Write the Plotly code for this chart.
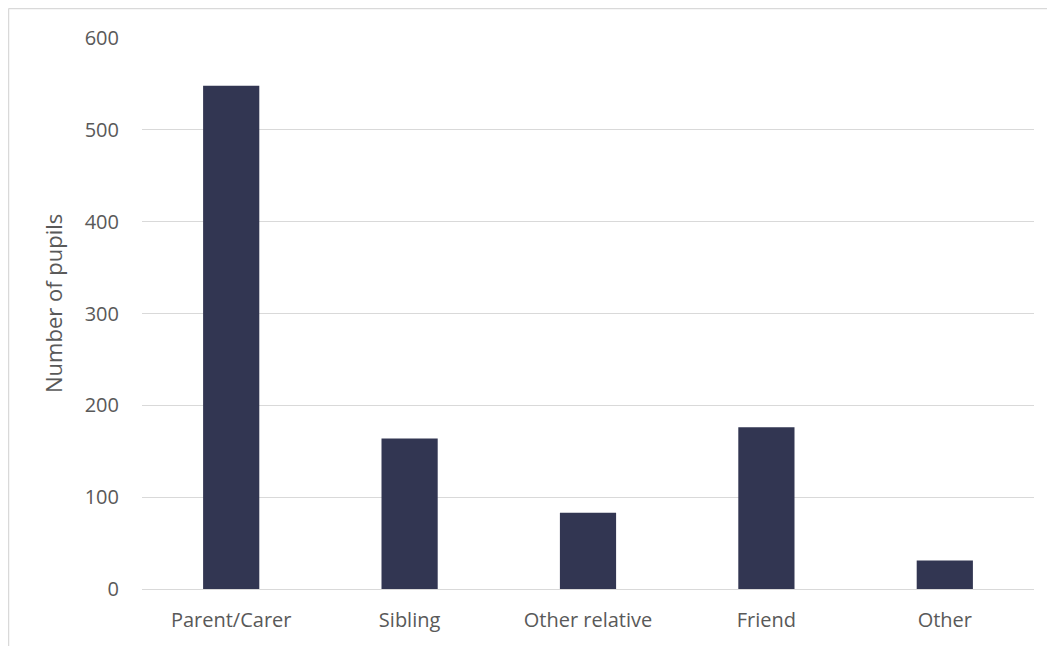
import plotly.graph_objects as go

categories = ["Parent/Carer", "Sibling", "Other relative", "Friend", "Other"]
pupils = [548, 164, 83, 176, 31]
y_ticks = [0, 100, 200, 300, 400, 500, 600]

W, H = 1055, 646
OFF = 8  # page offset of the figure (body margin)
# plot area in page pixels
PX0, PX1, PY0, PY1 = 142, 1034, 38, 589
L, R = PX0 - OFF, W + OFF - PX1
T, B = PY0 - OFF, H + OFF - PY1
pw, ph = PX1 - PX0, PY1 - PY0


def px(x):
    return (x - PX0) / pw


def py(y):
    return (PY1 - y) / ph


fig = go.Figure(go.Bar(x=categories, y=pupils, marker_color="#323652",
                       marker_line_width=0, width=0.315))

font = dict(family="Open Sans, Calibri, sans-serif", size=20, color="#595959")
fig.update_layout(
    width=W, height=H,
    margin=dict(l=L, r=R, t=T, b=B, autoexpand=False),
    paper_bgcolor="white", plot_bgcolor="white",
    font=font, showlegend=False,
    xaxis=dict(showgrid=False, showline=False, ticks="", tickfont=font,
               ticklabelstandoff=17),
    yaxis=dict(range=[0, 600], tickvals=y_ticks, showgrid=True,
               gridcolor="#d9d9d9", gridwidth=1.3, zeroline=True,
               zerolinecolor="#d9d9d9", zerolinewidth=1.3, showline=False,
               ticks="", tickfont=font, ticklabelstandoff=22),
)
fig.add_annotation(text="Number of pupils", textangle=-90, xref="paper", yref="paper",
                   x=px(53), y=py(304), showarrow=False,
                   xanchor="center", yanchor="middle",
                   font=dict(family=font["family"], size=22, color="#595959"))
# chart frame (top and left edges visible)
fig.add_shape(type="line", xref="paper", yref="paper",
              x0=px(8.5), x1=px(W + 10), y0=py(8.5), y1=py(8.5),
              line=dict(color="#d9d9d9", width=1.5))
fig.add_shape(type="line", xref="paper", yref="paper",
              x0=px(8.5), x1=px(8.5), y0=py(8.5), y1=py(H + 10),
              line=dict(color="#d9d9d9", width=1.5))
fig.write_html("out.html")
